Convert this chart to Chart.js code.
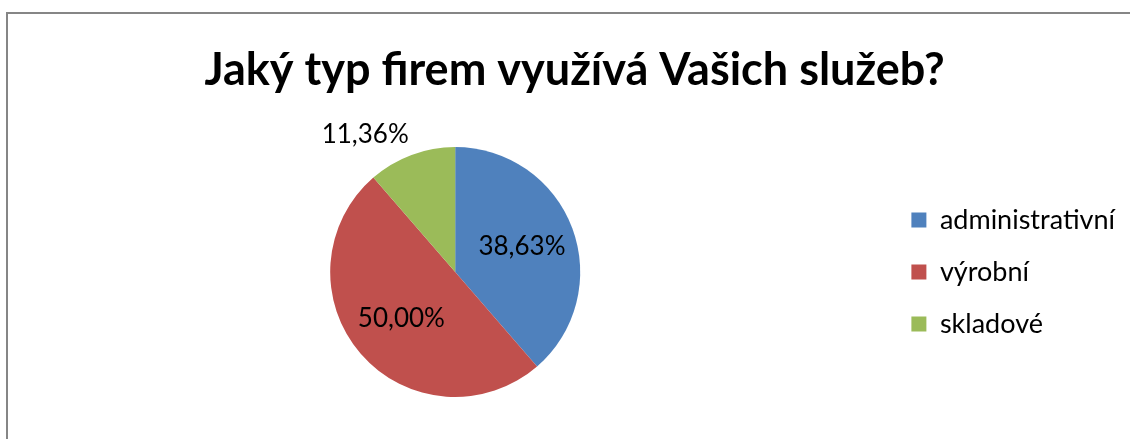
<!DOCTYPE html>
<html>
<head>
<meta charset="utf-8">
<script src="https://cdn.jsdelivr.net/npm/chart.js@4"></script>
<style>
  body { margin: 0; background: #fff; }
  .frame { position: absolute; left: 6px; top: 12px; width: 1200px; height: 500px;
           border-top: 2px solid #868686; border-left: 2px solid #868686; }
  .box { position: absolute; left: 0; top: 0; width: 1130px; height: 439px; }
</style>
</head>
<body>
<div class="frame"></div>
<div class="box"><canvas id="myChart"></canvas></div>
<script>
const categories = ['administrativní', 'výrobní', 'skladové'];
const shares = [38.63, 50.00, 11.36];
const colors = ['#4F81BD', '#C0504D', '#9BBB59'];
const chartTitle = 'Jaký typ firem využívá Vašich služeb?';

function fmtPct(v){
    return v.toFixed(2).replace('.', ',') + '%';
}

// percent labels, small slices go outside like excel "best fit"
const sliceLabels = {
    id: 'sliceLabels',
    afterDatasetsDraw(chart){
        const ctx = chart.ctx;
        const meta = chart.getDatasetMeta(0);
        const total = shares.reduce((a, b) => a + b, 0);
        ctx.save();
        ctx.font = '26px Lato';
        ctx.fillStyle = '#000';
        meta.data.forEach((arc, i) => {
            const p = arc.getProps(['x', 'y', 'startAngle', 'endAngle', 'outerRadius'], true);
            const mid = (p.startAngle + p.endAngle) / 2;
            const txt = fmtPct(shares[i]);
            if (shares[i] / total < 0.15){
                const r = p.outerRadius + 8;
                ctx.textAlign = Math.cos(mid) < 0 ? 'right' : 'left';
                ctx.textBaseline = Math.sin(mid) < 0 ? 'bottom' : 'top';
                ctx.fillText(txt, p.x + Math.cos(mid) * r, p.y + Math.sin(mid) * r);
            } else {
                const r = p.outerRadius * 0.57;
                ctx.textAlign = 'center';
                ctx.textBaseline = 'middle';
                ctx.fillText(txt, p.x + Math.cos(mid) * r, p.y + Math.sin(mid) * r);
            }
        });
        ctx.restore();
    }
};

const ctx = document.getElementById('myChart');
const myChart = new Chart(ctx, {
    type: 'pie',
    data: {
        labels: categories,
        datasets: [{
            data: shares,
            backgroundColor: colors,
            borderWidth: 0
        }]
    },
    options: {
        responsive: true,
        maintainAspectRatio: false,
        animation: false,
        layout: {
            padding: { left: 24, right: 5, top: 0, bottom: 42 }
        },
        plugins: {
            title: {
                display: true,
                text: chartTitle,
                color: '#000',
                font: { family: 'Lato', size: 45, weight: 'bold' },
                padding: { top: 43, bottom: 50 }
            },
            legend: {
                position: 'right',
                fullSize: false,
                labels: {
                    color: '#000',
                    font: { family: 'Lato', size: 27 },
                    boxWidth: 15,
                    boxHeight: 15,
                    padding: 25
                }
            },
            tooltip: { enabled: false }
        }
    },
    plugins: [sliceLabels]
});
</script>
</body>
</html>
